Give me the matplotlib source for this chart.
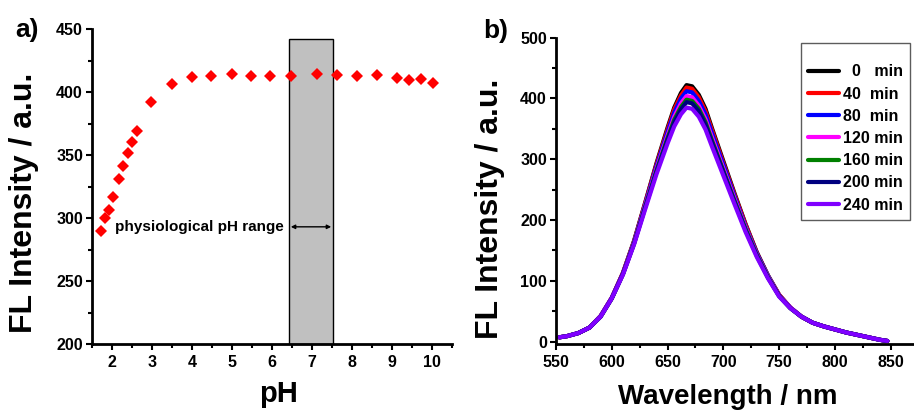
import matplotlib
matplotlib.use("Agg")
import matplotlib.pyplot as plt
from matplotlib.patches import Rectangle
from matplotlib.ticker import MultipleLocator

plt.rcParams['font.family'] = ['Liberation Sans', 'DejaVu Sans']
plt.rcParams['font.weight'] = 'bold'

# panel a: intensity vs pH
ph = [1.72, 1.82, 1.92, 2.03, 2.17, 2.28, 2.40, 2.50, 2.62, 2.97, 3.49, 3.99, 4.48,
      4.99, 5.47, 5.95, 6.48, 7.13, 7.62, 8.13, 8.63, 9.12, 9.43, 9.73, 10.03]
fl_ph = [289.7, 299.7, 306.3, 316.4, 330.7, 341.3, 351.8, 360.3, 369.0, 392.3, 406.3,
         411.6, 412.4, 414.5, 412.7, 412.4, 412.4, 414.5, 413.5, 412.7, 413.8, 411.1,
         409.3, 410.6, 407.4]

# panel b: emission spectra over time
wl = [553, 560, 570, 580, 590, 600, 610, 620, 630, 640, 650, 656, 662, 667, 672, 678,
      684, 690, 700, 710, 720, 730, 740, 750, 760, 770, 780, 790, 800, 810, 820, 830,
      840, 847]
tail = [41, 31, 25, 20, 15, 11, 7, 3, 1]
fl_0 = [7, 9, 14, 23, 42, 72, 113, 166, 229, 293, 352, 385, 409, 422, 420, 406, 383,
        350, 297, 244, 193, 147, 109, 77, 56] + tail
fl_40 = [7, 9, 14, 23, 42, 72, 113, 165, 228, 291, 349, 382, 405, 418, 416, 402, 379,
         347, 294, 242, 192, 146, 108, 77, 56] + tail
fl_80 = [7, 9, 14, 23, 42, 72, 112, 164, 226, 288, 345, 377, 400, 412, 410, 396, 374,
         342, 291, 239, 189, 145, 108, 76, 56] + tail
fl_120 = [7, 9, 14, 23, 42, 72, 112, 163, 224, 284, 339, 370, 392, 404, 402, 388, 366,
          335, 285, 235, 187, 143, 107, 76, 56] + tail
fl_160 = [7, 9, 14, 23, 41, 71, 111, 162, 222, 281, 335, 365, 386, 398, 396, 383, 361,
          330, 281, 232, 185, 142, 106, 75, 55] + tail
fl_200 = [7, 9, 14, 23, 41, 71, 111, 161, 221, 279, 332, 361, 382, 394, 392, 379, 357,
          327, 279, 230, 183, 141, 105, 75, 55] + tail
fl_240 = [7, 9, 14, 23, 41, 71, 110, 160, 218, 275, 326, 354, 374, 385, 383, 370, 349,
          320, 273, 226, 180, 139, 104, 74, 55] + tail

series = [fl_0, fl_40, fl_80, fl_120, fl_160, fl_200, fl_240]
labels = ['  0   min', '40  min', '80  min', '120 min', '160 min', '200 min', '240 min']
colors = ['#000000', '#FF0000', '#0000FF', '#FF00FF', '#008000', '#000080', '#8000FF']

fig = plt.figure(figsize=(9.14, 4.12), dpi=100)
ax1 = fig.add_axes([92/914, 1-344/412, 360/914, 315/412])
ax2 = fig.add_axes([556/914, 1-344/412, 357/914, 306.3/412])

# --- a) ---
ax1.add_patch(Rectangle((6.42, 200), 1.11, 242, facecolor='#C0C0C0',
                        edgecolor='black', linewidth=1, zorder=1))
ax1.plot(ph, fl_ph, 'D', color='red', markersize=6, markeredgewidth=0, zorder=3)
ax1.annotate('', xy=(6.47, 293), xytext=(7.48, 293),
             arrowprops=dict(arrowstyle='<|-|>', color='black', lw=1,
                             mutation_scale=6, shrinkA=0, shrinkB=0))
ax1.text(6.29, 293, 'physiological pH range', ha='right', va='center',
         fontsize=11, fontweight='bold')
ax1.set_xlim(1.5, 10.5)
ax1.set_ylim(200, 450)
ax1.xaxis.set_major_locator(MultipleLocator(1))
ax1.xaxis.set_minor_locator(MultipleLocator(0.5))
ax1.yaxis.set_major_locator(MultipleLocator(50))
ax1.yaxis.set_minor_locator(MultipleLocator(25))
ax1.set_xlabel('pH', fontsize=21, fontweight='bold', va='center')
ax1.xaxis.set_label_coords(0.517, -0.16)
ax1.set_ylabel('FL Intensity / a.u.', fontsize=23, fontweight='bold', va='center')
ax1.yaxis.set_label_coords(-0.19, 0.449)

# --- b) ---
for y, lab, c in zip(series, labels, colors):
    ax2.plot(wl, y, color=c, linewidth=3, label=lab, solid_capstyle='round')
ax2.set_xlim(550, 870)
ax2.set_ylim(-4, 500)
ax2.xaxis.set_major_locator(MultipleLocator(50))
ax2.xaxis.set_minor_locator(MultipleLocator(25))
ax2.yaxis.set_major_locator(MultipleLocator(100))
ax2.yaxis.set_minor_locator(MultipleLocator(50))
ax2.set_xlabel('Wavelength / nm', fontsize=20, fontweight='bold', va='center')
ax2.xaxis.set_label_coords(0.48, -0.173)
ax2.set_ylabel('FL Intensity / a.u.', fontsize=23, fontweight='bold', va='center')
ax2.yaxis.set_label_coords(-0.186, 0.441)
leg = ax2.legend(loc='upper right', bbox_to_anchor=(910/914, 1-43/412),
                 bbox_transform=fig.transFigure, borderaxespad=0, fontsize=11.5,
                 frameon=True, fancybox=False, edgecolor='#333333', labelspacing=0.45,
                 handlelength=1.9, handletextpad=0.25, borderpad=0.45,
                 title=' ', title_fontsize=6)
leg.get_frame().set_linewidth(1)
for t in leg.get_texts():
    t.set_fontweight('bold')

for ax in (ax1, ax2):
    ax.spines['top'].set_visible(False)
    ax.spines['right'].set_visible(False)
    ax.spines['left'].set_linewidth(2)
    ax.spines['bottom'].set_linewidth(2)
    ax.tick_params(which='major', direction='out', length=4, width=1.5,
                   labelsize=11.5, pad=2.5)
    ax.tick_params(which='minor', direction='out', length=3, width=1.5)
    ax.tick_params(axis='x', which='major', pad=4)
    for lab in ax.get_xticklabels() + ax.get_yticklabels():
        lab.set_fontweight('bold')

fig.text(15/914, 1-37/412, 'a)', fontsize=19, fontweight='bold')
fig.text(483/914, 1-38/412, 'b)', fontsize=19, fontweight='bold')

fig.savefig('out.png', dpi=100)
